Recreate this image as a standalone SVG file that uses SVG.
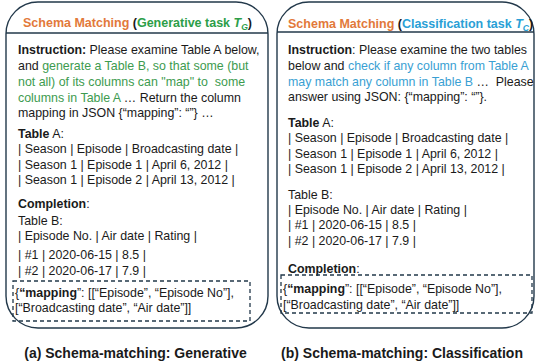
<svg xmlns="http://www.w3.org/2000/svg" width="535" height="364" viewBox="0 0 535 364">
<style>
text{font-family:"Liberation Sans",Arial,sans-serif;font-size:12.4px;fill:#1a1a1a}
.b{font-weight:bold}
.hd{font-weight:bold;font-size:12.5px}
.cap{font-weight:bold;font-size:14px;text-anchor:middle}
.or{fill:#e2793a}
.gh{fill:#2c9e48}
.g{fill:#3d9b4f}
.bh{fill:#2a9fd6}
.bl{fill:#3a9fd3}
.box{fill:none;stroke:#22384a;stroke-width:1.4}
.dash{fill:none;stroke:#22384a;stroke-width:1.3;stroke-dasharray:4 3}
</style>
<rect width="535" height="364" fill="#ffffff"/>
<g id="panel-a">
<rect class="box" x="6" y="2" width="262" height="326" rx="32"/>
<line class="box" x1="6" y1="33" x2="268" y2="33"/>
<text class="hd" x="23" y="27"><tspan class="or">Schema Matching</tspan> (<tspan class="gh">Generative task <tspan font-style="italic">T</tspan><tspan font-size="8.6px" dy="3" font-style="italic">G</tspan></tspan><tspan dy="-3">)</tspan></text>
<text x="18" y="54"><tspan class="b">Instruction:</tspan> Please examine Table A below,</text>
<text x="18" y="70" xml:space="preserve">and <tspan class="g">generate a Table B, so that some (but</tspan></text>
<text x="18" y="86" xml:space="preserve"><tspan class="g">not all) of its columns can "map" to  some</tspan></text>
<text x="18" y="102" xml:space="preserve"><tspan class="g">columns in Table A</tspan> … Return the column</text>
<text x="18" y="117">mapping in JSON {“mapping”: “”} …</text>
<text x="18" y="138"><tspan class="b">Table</tspan> A:</text>
<text x="18" y="153">| Season | Episode | Broadcasting date |</text>
<text x="18" y="169">| Season 1 | Episode 1 | April 6, 2012 |</text>
<text x="18" y="184">| Season 1 | Episode 2 | April 13, 2012 |</text>
<text x="18" y="208"><tspan class="b">Completion</tspan>:</text>
<text x="18" y="225">Table B:</text>
<text x="18" y="240">| Episode No. | Air date | Rating |</text>
<text x="18" y="259">| #1 | 2020-06-15 | 8.5 |</text>
<text x="18" y="275">| #2 | 2020-06-17 | 7.9 |</text>
<rect class="dash" x="13" y="281" width="237" height="40"/>
<text x="15" y="297">{<tspan class="b">“mapping</tspan>”: [[“Episode”, “Episode No”],</text>
<text x="15" y="312">[“Broadcasting date”, “Air date”]]</text>
</g>
<g id="panel-b">
<rect class="box" x="277" y="2" width="257" height="326" rx="32"/>
<line class="box" x1="277" y1="32" x2="534" y2="32"/>
<text class="hd" x="288" y="28"><tspan class="or">Schema Matching</tspan> (<tspan class="bh">Classification task <tspan font-style="italic">T</tspan><tspan font-size="8.6px" dy="3" font-style="italic">C</tspan></tspan><tspan dy="-3">)</tspan></text>
<text x="288" y="54"><tspan class="b">Instruction</tspan>: Please examine the two tables</text>
<text x="288" y="70" xml:space="preserve">below and <tspan class="bl">check if any column from Table A</tspan></text>
<text x="288" y="86" xml:space="preserve"><tspan class="bl">may match any column in Table B</tspan> …  Please</text>
<text x="288" y="101">answer using JSON: {“mapping”: “”}.</text>
<text x="288" y="127"><tspan class="b">Table</tspan> A:</text>
<text x="288" y="142">| Season | Episode | Broadcasting date |</text>
<text x="288" y="158">| Season 1 | Episode 1 | April 6, 2012 |</text>
<text x="288" y="173">| Season 1 | Episode 2 | April 13, 2012 |</text>
<text x="288" y="199">Table B:</text>
<text x="288" y="214">| Episode No. | Air date | Rating |</text>
<text x="288" y="229">| #1 | 2020-06-15 | 8.5 |</text>
<text x="288" y="245">| #2 | 2020-06-17 | 7.9 |</text>
<text x="288" y="273"><tspan class="b">Completion</tspan>:</text>
<rect class="dash" x="281" y="275" width="251" height="38"/>
<text x="283" y="293">{<tspan class="b">“mapping</tspan>”: [[“Episode”, “Episode No”],</text>
<text x="283" y="309">[“Broadcasting date”, “Air date”]]</text>
</g>
<g id="captions">
<text class="cap" x="135.5" y="358">(a) Schema-matching: Generative</text>
<text class="cap" x="402" y="358">(b) Schema-matching: Classification</text>
</g>
</svg>
